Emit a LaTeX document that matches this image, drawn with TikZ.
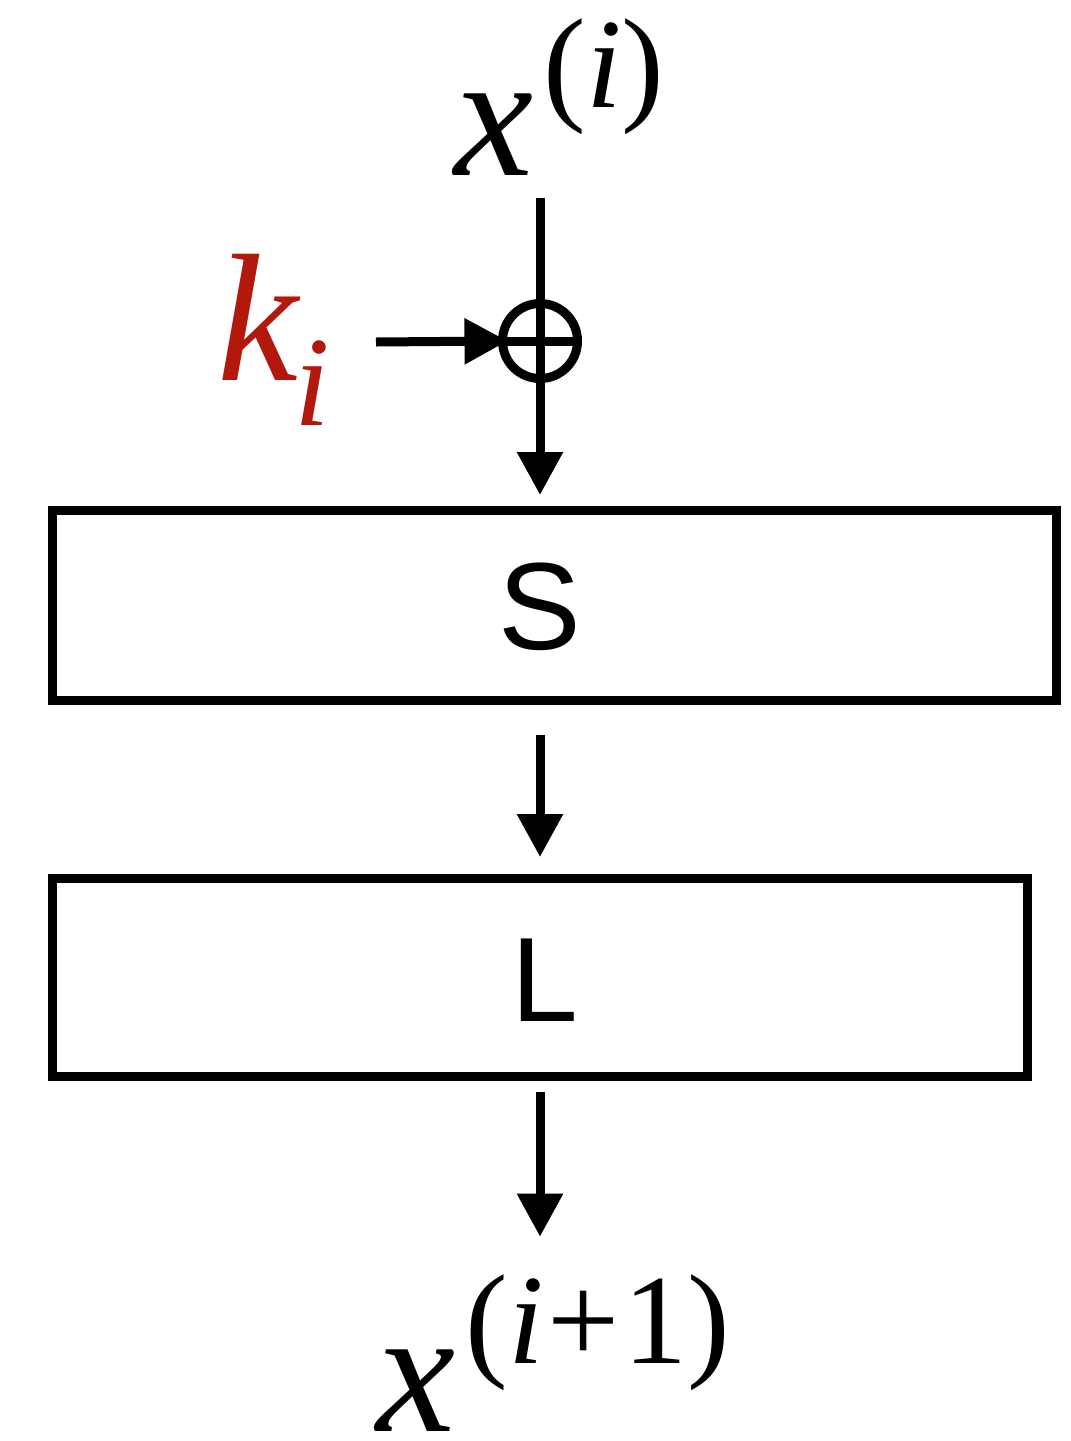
\documentclass[tikz,border=0pt]{standalone}
\usepackage{fontspec}
\newfontfamily\tms{Liberation Serif}
\newfontfamily\hlv{Liberation Sans}
\usetikzlibrary{arrows.meta}
\definecolor{kred}{RGB}{178,24,12}
\begin{document}
\begin{tikzpicture}[x=0.5pt,y=-0.5pt,
  line width=4.5pt,
  arr/.style={-{Triangle[length=21.5pt,width=22pt]}},
  blk/.style={draw,line width=4.5pt,inner sep=0pt,outer sep=0pt,anchor=north west},
  txt/.style={inner sep=0pt,anchor=base west}]
\useasboundingbox (0,0) rectangle (1071,1441);
% input label
\node[txt] (xin) at (450,175) {\tms\fontsize{89}{89}\selectfont\itshape x\hspace{5pt}\raisebox{34pt}{\fontsize{64}{64}\selectfont\upshape(\itshape i\/\upshape)}};
\coordinate (xtop) at (540,198);
% xor
\node[draw,circle,minimum size=37.5pt,inner sep=0pt,outer sep=0pt,line width=4.5pt,
  path picture={\draw[line width=4.5pt] (path picture bounding box.west) -- (path picture bounding box.east);
                \draw[line width=4.5pt] (path picture bounding box.north) -- (path picture bounding box.south);}]
  (xor) at (540,341) {};
% key
\node[txt,text=kred] (kin) at (213,380) {\tms\fontsize{91}{91}\selectfont\itshape k\hspace{-2pt}\raisebox{-22.5pt}{\fontsize{64}{64}\selectfont i}};
\coordinate (kst) at (376,342);
% boxes
\node[blk,minimum width=502pt,minimum height=95pt] (S) at (52,510) {};
\node[font=\hlv\fontsize{62}{62}\selectfont] at (540,607) {S};
\node[blk,minimum width=487.5pt,minimum height=99pt] (L) at (52,878) {};
\node[font=\hlv\fontsize{60}{60}\selectfont] at (545,980) {L};
% output label
\node[txt] (xout) at (372,1431) {\tms\fontsize{89}{89}\selectfont\itshape x\hspace{5pt}\raisebox{34pt}{\fontsize{64}{64}\selectfont\upshape(\itshape i\/\upshape\kern2pt+\kern2pt1)}};
% connectors
\draw (xtop) -- (xor.north);
\draw[arr,shorten >=-2.5pt] (kst) -- (xor.west);
\draw[arr,shorten >=7.5pt] (xor.south) -- (S.north -| xor);
\draw[arr,shorten <=17.5pt,shorten >=10.5pt] (S.south -| xor) -- (L.north -| xor);
\draw[arr,shorten <=8pt] (L.south -| xor) -- ([yshift=16.5pt]xout.north -| xor);
\end{tikzpicture}
\end{document}
